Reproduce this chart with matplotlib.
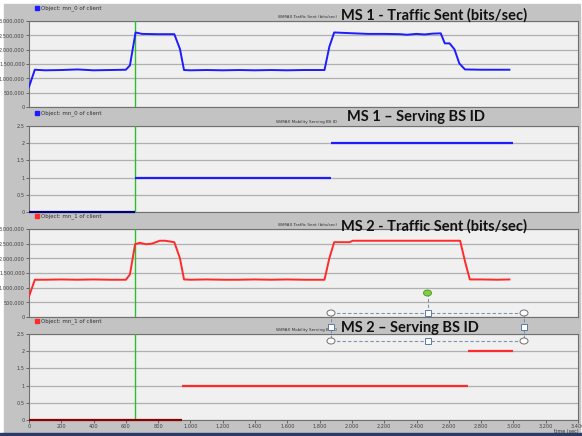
import matplotlib.pyplot as plt
from matplotlib.patches import Rectangle, Circle
from matplotlib.lines import Line2D
from matplotlib.ticker import FuncFormatter

# ---- data -------------------------------------------------------------
handover_t = 655

ms1_t = [0, 36, 100, 200, 300, 400, 500, 600, 625, 660,
         700, 800, 900, 935, 960, 1000, 1100, 1200, 1300, 1400,
         1500, 1600, 1700, 1830, 1860, 1890, 1970, 2100, 2200, 2300,
         2340, 2400, 2450, 2500, 2550, 2575, 2605, 2635, 2665, 2700,
         2800, 2900, 2975]
ms1_traffic = [0.70, 1.30, 1.28, 1.29, 1.31, 1.28, 1.29, 1.30, 1.45, 2.60,
               2.55, 2.54, 2.54, 2.02, 1.29, 1.28, 1.29, 1.28, 1.29, 1.28,
               1.29, 1.28, 1.29, 1.29, 2.10, 2.60, 2.58, 2.55, 2.55, 2.54,
               2.52, 2.55, 2.53, 2.56, 2.57, 2.22, 2.22, 2.01, 1.52, 1.31,
               1.30, 1.30, 1.30]  # millions of bits/sec

ms2_t = [0, 36, 100, 200, 300, 400, 500, 600, 625, 657,
         686, 724, 761, 810, 843, 900, 935, 960, 1000, 1100,
         1200, 1300, 1400, 1500, 1600, 1700, 1830, 1860, 1890, 1985,
         2005, 2100, 2300, 2500, 2670, 2700, 2730, 2800, 2900, 2975]
ms2_traffic = [0.70, 1.27, 1.27, 1.28, 1.27, 1.28, 1.27, 1.27, 1.45, 2.48,
               2.53, 2.48, 2.50, 2.60, 2.60, 2.55, 2.00, 1.28, 1.27, 1.28,
               1.27, 1.27, 1.28, 1.27, 1.28, 1.27, 1.27, 2.00, 2.55, 2.55,
               2.60, 2.60, 2.60, 2.60, 2.60, 1.90, 1.28, 1.28, 1.27, 1.28]

ms1_bs_start = [0, 655, 1871]
ms1_bs_end = [655, 1871, 3000]
ms1_bs_id = [0, 1, 2]

ms2_bs_start = [0, 950, 2720]
ms2_bs_end = [950, 2720, 3000]
ms2_bs_id = [0, 1, 2]

titles = ["MS 1 - Traffic Sent (bits/sec)", "MS 1 \u2013 Serving BS ID",
          "MS 2 - Traffic Sent (bits/sec)", "MS 2 \u2013 Serving BS ID"]
stat_names = ["WiMAX.Traffic Sent (bits/sec)", "WiMAX Mobility Serving BS ID",
              "WiMAX.Traffic Sent (bits/sec)", "WiMAX Mobility Serving BS ID"]
objects = ["Object: mn_0 of client", "Object: mn_0 of client",
           "Object: mn_1 of client", "Object: mn_1 of client"]

# ---- figure -----------------------------------------------------------
W, H = 582, 436
fig = plt.figure(figsize=(W / 100, H / 100), dpi=100, facecolor="white")

def fx(px):
    return px / W

def fy(py):
    return 1 - py / H

GRAY = "#c3c3c3"
fig.patches.append(Rectangle((fx(4), fy(433)), fx(576), (429) / H,
                             transform=fig.transFigure, color=GRAY, zorder=-5))
fig.patches.append(Rectangle((0, 0), 1, 3 / H, transform=fig.transFigure,
                             color="#2b3a67", zorder=-5))

# pixel rows: (top, bottom) of each plot area
rows = [(21, 107), (126, 212), (229, 317), (334, 420)]
left, right = 29, 578
blue, dblue = "#1c1cff", "#00007a"
red, dred = "#ff2a2a", "#8a0000"

axes = []
for i, (top, bot) in enumerate(rows):
    ax = fig.add_axes([fx(left), fy(bot), fx(right - left), (bot - top) / H])
    ax.set_facecolor("#f0f0f0")
    ax.set_xlim(0, 3400)
    for s in ax.spines.values():
        s.set_color("#707070")
        s.set_linewidth(0.8)
    ax.tick_params(axis="both", labelsize=3.6, length=2, width=0.5,
                   colors="#404040", pad=1)
    ax.grid(axis="y", color="#b0b0b0", linewidth=0.9)
    ax.set_xticks(range(0, 3401, 200))
    ax.xaxis.set_major_formatter(FuncFormatter(lambda v, p: f"{int(v):,}"))
    if i < 3:
        ax.tick_params(axis="x", labelbottom=False, length=0)
    ax.axvline(handover_t, color="#2ebd2e", linewidth=1, zorder=3)
    # header texts
    fig.text(fx(41), fy(top - 13), objects[i], fontsize=4, color="#303030",
             va="center")
    fig.patches.append(Rectangle((fx(35), fy(top - 11)), fx(4), 4 / H,
                                 transform=fig.transFigure,
                                 color=blue if i < 2 else red, zorder=1))
    fig.text(fx(337), fy(top - 4), stat_names[i], fontsize=3, color="#303030",
             ha="right", va="center")
    axes.append(ax)

# traffic panels
for ax, t, v, c in [(axes[0], ms1_t, ms1_traffic, blue),
                    (axes[2], ms2_t, ms2_traffic, red)]:
    ax.plot(t, [x * 1e6 for x in v], color=c, linewidth=1.4, zorder=4)
    ax.set_ylim(0, 3e6)
    ax.set_yticks([0, 5e5, 1e6, 1.5e6, 2e6, 2.5e6, 3e6])
    ax.yaxis.set_major_formatter(FuncFormatter(lambda v, p: f"{int(v):,}"))

# serving BS panels
for ax, st, en, ids, c, dc in [(axes[1], ms1_bs_start, ms1_bs_end, ms1_bs_id, blue, dblue),
                               (axes[3], ms2_bs_start, ms2_bs_end, ms2_bs_id, red, dred)]:
    for s, e, b in zip(st, en, ids):
        ax.plot([s, e], [b, b], color=dc if b == 0 else c, linewidth=1.6,
                zorder=4, solid_capstyle="butt", clip_on=False)
    ax.set_ylim(0, 2.5)
    ax.set_yticks([0, 0.5, 1, 1.5, 2, 2.5])
    ax.set_yticklabels(["0", "0.5", "1", "1.5", "2", "2.5"])

fig.text(fx(566), fy(431), "time (sec)", fontsize=3.5, color="#303030",
         ha="center", va="center")

# panel titles
title_pos = [(341, 15), (347, 117), (341, 226), (341, 328)]
for (x, y), txt in zip(title_pos, titles):
    fig.text(fx(x), fy(y), txt, fontsize=10.5, fontfamily="Lato",
             fontweight="bold", color="#111111", va="center", ha="left",
             zorder=10)

# selected text box frame around last title
bx0, bx1, by0, by1 = 331, 524, 313, 341
mx, my = (bx0 + bx1) / 2, (by0 + by1) / 2
sel = "#7f93b0"
for xs, ys in [([bx0, bx1], [by0, by0]), ([bx0, bx1], [by1, by1]),
               ([bx0, bx0], [by0, by1]), ([bx1, bx1], [by0, by1]),
               ([mx, mx], [293, by0])]:
    fig.lines.append(Line2D([fx(x) for x in xs], [fy(y) for y in ys],
                            transform=fig.transFigure, color=sel,
                            linewidth=0.8, linestyle=(0, (3, 2)), zorder=11))
for (x, y) in [(bx0, by0), (bx1, by0), (bx0, by1), (bx1, by1)]:
    fig.patches.append(Circle((fx(x), fy(y)), 4 / W, transform=fig.transFigure,
                              facecolor="white", edgecolor="#707070",
                              linewidth=0.7, zorder=12))
for (x, y) in [(mx, by0), (mx, by1), (bx0, my), (bx1, my)]:
    fig.patches.append(Rectangle((fx(x - 3), fy(y + 3)), 6 / W, 6 / H,
                                 transform=fig.transFigure, facecolor="white",
                                 edgecolor="#5a7aa5", linewidth=0.7, zorder=12))
fig.patches.append(Circle((fx(mx), fy(293)), 4 / W, transform=fig.transFigure,
                          facecolor="#7ed03c", edgecolor="#5a9a30",
                          linewidth=0.7, zorder=12))

fig.savefig("out.png", dpi=100, facecolor="white")
